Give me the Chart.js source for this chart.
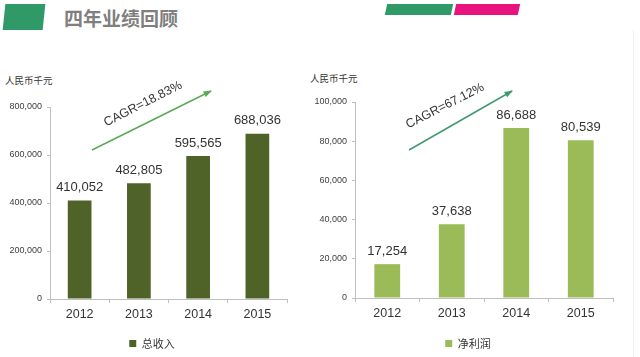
<!DOCTYPE html>
<html><head><meta charset="utf-8">
<script src="https://cdn.jsdelivr.net/npm/chart.js@4"></script>
<style>
html,body{margin:0;padding:0;background:#fff;width:640px;height:357px;overflow:hidden;font-family:"Noto Sans CJK SC","Noto Sans",sans-serif;}
#c1{position:absolute;left:0;top:0;}
#c2{position:absolute;left:300px;top:0;}
.hdr{position:absolute;}
.unit{position:absolute;font-size:9.5px;color:#333;font-family:"Noto Sans CJK SC";}
</style></head><body>
<div class="hdr" style="left:4px;top:4px;width:40px;height:26px;background:#2f9a68;transform:skewX(-6deg);"></div>
<div class="hdr" style="left:64px;top:3px;font-size:19px;font-weight:bold;color:#7f7f7f;line-height:30px;">四年业绩回顾</div>
<div class="hdr" style="left:386px;top:4px;width:66px;height:11px;background:#2f9a68;transform:skewX(-12deg);"></div>
<div class="hdr" style="left:455px;top:4px;width:64px;height:11px;background:#e8137c;transform:skewX(-12deg);"></div>
<div class="hdr" style="left:633px;top:30px;width:1px;height:327px;background:#f0f0f0;"></div>
<div class="unit" style="left:5px;top:73px;">人民币千元</div>
<div class="unit" style="left:310px;top:71px;">人民币千元</div>
<canvas id="c1" width="320" height="363"></canvas>
<canvas id="c2" width="340" height="363"></canvas>
<script>
const years = ['2012','2013','2014','2015'];
const revenue = [410052, 482805, 595565, 688036];
const profit = [17254, 37638, 86688, 80539];
const revenueLabel = '总收入';
const profitLabel = '净利润';
const revenueCagr = 'CAGR=18.83%';
const profitCagr = 'CAGR=67.12%';

const valueLabels = {
  id:'valueLabels',
  afterDatasetsDraw(chart){
    const ctx = chart.ctx;
    ctx.save();
    ctx.font = '13px "Liberation Sans", Arial, sans-serif';
    ctx.fillStyle = '#333';
    ctx.textAlign = 'center';
    ctx.textBaseline = 'middle';
    const meta = chart.getDatasetMeta(0);
    meta.data.forEach((bar,i)=>{
      const v = chart.data.datasets[0].data[i];
      ctx.fillText(v.toLocaleString('en-US'), bar.x, bar.y - 13);
    });
    ctx.restore();
  }
};
const legendShift = {
  id:'legendShift',
  afterLayout(chart, args, o){
    const l = chart.legend;
    if(!l || o.center == null) return;
    const dx = o.center - (l.left + l.right)/2;
    l.left += dx; l.right += dx;
  }
};
const cagrArrow = {
  id:'cagrArrow',
  afterDraw(chart, args, o){
    const ctx = chart.ctx;
    ctx.save();
    ctx.strokeStyle = o.color; ctx.fillStyle = o.color; ctx.lineWidth = 1.5;
    const [x1,y1,x2,y2] = o.arrow;
    ctx.beginPath(); ctx.moveTo(x1,y1); ctx.lineTo(x2,y2); ctx.stroke();
    const a = Math.atan2(y2-y1, x2-x1);
    ctx.beginPath();
    ctx.moveTo(x2+1,y2-0.5);
    ctx.lineTo(x2 - 8*Math.cos(a-0.4), y2 - 8*Math.sin(a-0.4));
    ctx.lineTo(x2 - 8*Math.cos(a+0.4), y2 - 8*Math.sin(a+0.4));
    ctx.closePath(); ctx.fill();
    ctx.translate(o.text[0], o.text[1]);
    ctx.rotate(-27*Math.PI/180);
    ctx.font = '12.5px "Liberation Sans", Arial, sans-serif';
    ctx.fillStyle = '#333'; ctx.textAlign='center'; ctx.textBaseline='middle';
    ctx.fillText(o.label, 0, 0);
    ctx.restore();
  }
};

function makeChart(id, data, label, color, max, step, pad, yW, xH, legendCenter, cagr){
  return new Chart(document.getElementById(id), {
    type:'bar',
    data:{labels:years, datasets:[{label, data, backgroundColor:color, barPercentage:0.8, categoryPercentage:0.5}]},
    options:{
      responsive:false, animation:false, maintainAspectRatio:false,
      layout:{padding:pad},
      plugins:{
        tooltip:{enabled:false},
        legend:{position:'bottom', labels:{boxWidth:7, boxHeight:7, padding:8, color:'#333', font:{size:11, family:'"Noto Sans CJK SC"'}}},
        legendShift:{center:legendCenter},
        cagrArrow:cagr
      },
      scales:{
        x:{
          grid:{display:true, drawOnChartArea:false, drawTicks:true, tickLength:4, color:'#bfbfbf', offset:true},
          border:{display:true, color:'#bfbfbf'},
          ticks:{color:'#333', font:{size:12.5, family:'"Liberation Sans", Arial'}, padding:4},
          afterFit(s){ s.height = xH; }
        },
        y:{
          min:0, max:max,
          grid:{display:true, drawOnChartArea:false, drawTicks:true, tickLength:3, color:'#bfbfbf'},
          border:{display:true, color:'#bfbfbf'},
          ticks:{stepSize:step, color:'#404040', font:{size:9, family:'"Liberation Sans", Arial'}, padding:5},
          afterFit(s){ s.width = yW; }
        }
      }
    },
    plugins:[valueLabels, cagrArrow, legendShift]
  });
}
makeChart('c1', revenue, revenueLabel, '#4f6228', 800000, 200000, {left:0, right:33, top:107, bottom:4}, 50, 31, 152,
  {color:'#5aaa55', arrow:[92,150,211,91], text:[143,104], label:revenueCagr});
makeChart('c2', profit, profitLabel, '#9bbb59', 100000, 20000, {left:0, right:27, top:102, bottom:4}, 55, 32, 168,
  {color:'#3f9a72', arrow:[109,150,212,91], text:[145,106], label:profitCagr});
</script>
</body></html>
